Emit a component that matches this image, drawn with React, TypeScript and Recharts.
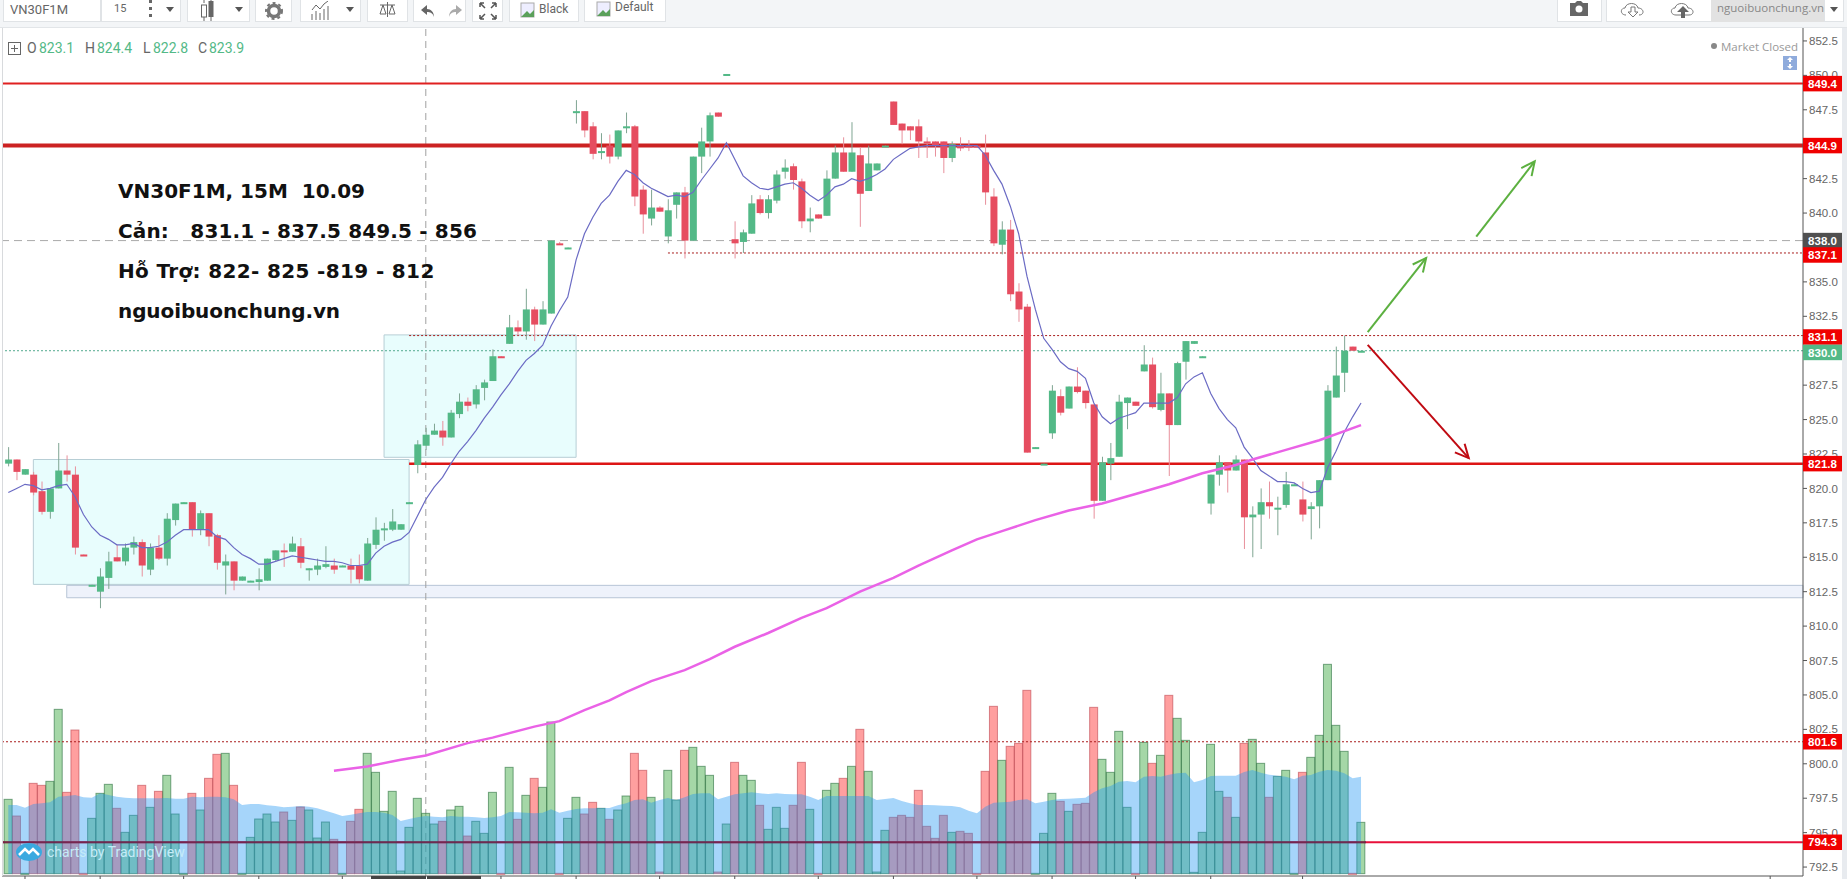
import React from 'react';
import { ComposedChart, Bar, Line, Area, XAxis, YAxis, ReferenceLine, ReferenceArea, ReferenceDot } from 'recharts';

const opens = [821.8,822.1,821.0,821.0,819.8,818.3,820.0,821.3,821.0,815.2,812.9,812.5,813.5,815.0,814.7,815.7,816.1,814.1,815.7,814.9,817.7,818.9,819.0,817.0,818.2,816.6,814.4,814.7,813.3,813.2,813.2,813.3,814.8,815.5,815.4,815.8,814.1,814.1,814.3,814.4,814.3,814.4,814.4,813.3,815.9,817.0,817.0,817.0,818.9,821.7,823.1,823.9,824.2,823.7,825.4,826.3,826.1,827.3,827.8,829.6,830.5,831.7,831.4,833.0,831.9,832.7,837.8,837.4,847.3,847.4,846.3,844.4,844.9,844.1,846.2,846.3,841.7,839.6,840.4,838.3,840.6,841.5,838.0,844.1,845.2,847.3,850.0,838.1,837.9,838.5,841.0,840.0,840.9,843.0,843.4,842.3,839.4,839.9,839.8,842.5,844.4,843.0,844.2,841.6,843.1,844.8,848.1,846.5,846.3,846.3,845.2,845.2,845.2,844.0,844.9,844.9,844.9,844.4,841.2,837.7,838.8,834.3,833.2,822.9,821.7,824.0,826.7,825.8,827.4,827.1,826.1,819.1,821.8,822.3,826.2,826.3,828.5,829.0,825.7,826.9,824.6,829.2,830.5,829.5,818.9,821.0,821.9,821.3,822.1,817.9,818.1,819.0,818.5,818.8,820.2,819.2,818.5,818.7,820.6,826.6,828.4,830.3,829.9];
const highs = [823.0,822.1,821.4,821.2,820.5,820.0,823.3,822.4,821.6,815.2,813.0,814.2,815.4,815.9,816.0,816.5,816.3,816.0,816.6,818.2,818.9,819.0,819.0,818.4,818.2,816.7,815.2,814.7,813.6,813.3,814.2,814.9,815.5,816.0,816.5,816.4,814.2,814.9,815.8,814.9,814.4,814.9,815.2,816.4,817.9,817.5,818.5,817.4,819.0,823.5,824.4,824.7,824.9,825.7,826.9,826.6,827.5,827.9,830.1,829.6,832.6,832.2,834.5,833.2,833.6,838.0,837.9,837.5,848.2,847.4,846.6,845.8,845.7,846.0,847.3,846.4,842.0,841.7,840.5,841.0,841.5,841.9,844.1,846.2,847.3,847.3,850.1,839.4,838.8,841.3,841.3,841.3,843.1,843.9,843.6,842.5,840.4,839.9,843.1,844.9,845.5,846.6,844.8,844.9,843.6,844.9,848.1,846.5,846.3,846.8,845.5,845.2,845.2,845.2,845.5,845.3,844.9,845.7,841.8,839.4,839.5,834.9,833.4,823.0,821.8,827.5,827.2,827.4,828.8,827.1,826.1,822.3,823.3,826.8,826.6,826.3,830.4,829.5,828.4,826.9,829.2,830.7,830.7,829.6,821.0,822.4,821.9,822.4,822.1,818.7,820.0,820.5,819.4,821.2,820.3,820.5,819.0,820.6,827.5,830.3,831.1,830.3,830.0];
const lows = [821.6,820.6,821.0,819.5,818.1,817.8,820.0,820.5,815.2,815.1,812.9,811.3,812.7,814.7,814.4,815.2,813.6,813.7,814.8,814.4,817.3,818.9,816.5,816.6,815.8,814.1,812.3,812.6,813.3,813.2,812.6,813.3,814.7,814.3,815.4,814.2,813.3,813.7,814.2,813.8,814.3,813.1,813.1,813.3,815.6,816.2,816.9,817.0,818.9,821.1,822.8,823.9,823.1,823.7,825.1,825.6,825.8,826.4,827.8,829.5,830.5,831.1,830.8,830.7,831.9,832.7,837.7,837.4,846.5,845.5,843.9,843.9,843.6,843.9,845.8,840.5,838.5,839.1,840.1,837.8,839.6,836.7,838.0,842.9,844.1,847.0,850.0,836.7,837.1,838.5,839.9,839.6,840.7,842.5,841.7,838.9,838.6,839.6,839.8,842.5,843.0,843.0,839.0,841.6,843.1,844.8,846.4,845.0,845.3,844.0,844.0,844.1,842.9,843.7,844.5,844.5,844.8,840.6,837.6,837.0,833.6,832.1,822.6,822.9,821.7,823.6,825.3,825.8,826.9,825.8,817.8,819.1,820.6,822.3,824.3,826.0,828.5,825.8,825.6,820.9,824.6,827.9,830.5,829.5,818.1,820.2,819.7,821.3,815.6,815.0,815.6,817.8,816.6,818.6,820.2,817.6,816.3,817.1,820.6,826.6,827.0,830.0,829.9];
const closes = [822.1,821.2,821.4,819.7,818.3,820.0,821.3,821.0,815.7,815.1,813.0,813.6,814.7,814.7,815.7,816.1,814.4,815.7,814.9,817.8,818.9,819.0,817.0,818.2,816.5,814.6,814.7,813.3,813.6,813.3,813.4,814.9,815.5,815.4,816.0,814.6,814.2,814.4,814.5,814.1,814.4,814.1,813.4,816.0,817.0,817.1,817.6,817.4,819.0,823.2,823.9,824.2,823.7,825.5,826.3,826.0,827.2,827.7,829.6,829.5,831.7,831.4,833.0,831.9,833.0,838.0,837.7,837.5,847.4,846.0,844.3,844.5,844.1,846.0,846.3,841.2,839.9,840.4,840.1,840.2,841.5,838.0,844.1,845.2,847.1,847.0,850.1,837.8,838.6,840.7,840.0,841.0,842.8,843.3,842.4,839.4,839.6,839.6,842.5,844.4,843.0,844.4,841.4,843.6,843.6,844.9,846.4,846.0,846.0,845.2,845.1,844.9,844.0,845.0,844.7,844.8,844.8,841.5,837.8,838.8,834.1,833.0,822.6,823.0,821.8,827.1,825.5,827.4,827.0,826.2,819.1,821.9,822.2,826.3,826.6,826.0,829.0,825.9,826.9,824.6,829.1,830.7,830.7,829.6,821.0,821.9,821.3,822.1,817.9,818.1,819.0,818.7,818.6,820.3,820.3,818.1,818.7,820.6,827.1,828.2,830.0,830.0,830.0];
const maShort = [819.7,820.0,820.3,820.2,819.9,820.0,820.2,820.3,819.4,818.1,817.2,816.6,816.3,815.9,815.9,816.0,815.7,815.7,815.8,816.1,816.6,817.0,817.0,817.0,817.0,816.5,816.3,815.7,815.2,814.9,814.5,814.5,814.7,814.9,815.1,815.0,814.9,814.8,814.7,814.7,814.6,814.4,814.4,814.5,815.3,815.8,816.1,816.3,816.8,818.0,819.2,820.1,820.8,821.8,822.7,823.4,824.2,825.1,825.9,826.8,827.6,828.5,829.3,829.8,830.4,831.8,832.9,833.9,836.6,838.5,839.7,840.7,841.3,842.3,843.1,842.8,842.2,841.8,841.5,841.2,841.3,841.2,841.5,842.4,843.2,844.0,845.1,843.9,842.7,842.2,841.8,841.7,841.9,842.1,842.2,841.8,841.3,840.9,841.3,841.9,842.1,842.5,842.3,842.5,842.8,843.2,843.9,844.3,844.7,844.8,844.9,844.9,844.9,844.9,844.9,844.9,844.9,844.2,843.1,842.1,840.5,838.5,835.4,833.0,830.9,830.1,829.2,828.7,828.5,828.0,826.2,825.2,824.7,825.1,825.3,825.5,826.2,826.2,826.2,826.2,826.6,827.6,828.1,828.4,826.9,825.8,825.0,824.4,823.0,822.2,821.3,820.9,820.5,820.5,820.4,820.0,819.7,819.8,821.5,822.7,824.1,825.2,826.2];
const maLongIndex = [39,43,47,50,55,58,63,66,69,72,74,77,81,84,87,91,95,98,102,106,109,113,116,119,123,127,131,135,139,143,147,149,153,157,162];
const maLongValue = [799.5,799.8,800.3,800.6,801.5,801.9,802.7,803.1,803.9,804.6,805.2,806.0,806.8,807.6,808.5,809.5,810.6,811.3,812.5,813.5,814.4,815.5,816.3,816.9,817.7,818.4,818.9,819.6,820.3,821.1,821.7,822.1,822.8,823.5,824.6];
const volume = [223,173,1,271,265,277,493,244,431,1,166,241,268,196,124,175,265,199,247,295,179,1,241,191,286,358,361,265,1,109,164,179,155,185,160,200,191,107,155,103,1,157,193,361,304,187,247,8,139,226,181,149,157,191,202,113,157,121,244,1,319,163,235,286,259,455,1,166,229,179,214,196,163,191,233,361,310,229,5,310,221,370,379,322,295,5,149,334,295,280,205,133,199,136,205,334,193,1,250,271,286,322,433,307,5,130,169,175,169,250,142,106,175,124,127,121,1,307,502,340,382,391,550,1,121,241,217,187,208,211,499,343,304,427,199,1,394,331,355,535,466,400,4,124,388,247,229,169,391,403,331,229,292,310,1,304,349,415,628,445,367,1,154];
const volumeMa = [206,206,198,209,211,214,231,233,236,229,228,241,236,231,228,226,226,226,226,227,225,225,231,229,231,231,229,223,206,209,209,205,203,199,201,203,201,196,189,181,173,177,181,185,185,183,176,158,164,169,173,171,169,173,171,171,169,167,169,173,185,184,183,181,183,193,183,189,194,196,196,197,197,205,211,221,223,213,221,227,221,229,239,241,241,223,231,238,241,244,241,239,241,239,238,238,231,221,233,233,233,233,233,233,221,224,227,218,211,206,206,205,204,203,199,189,181,201,213,214,216,221,223,211,216,221,224,225,226,228,244,256,263,276,278,274,291,293,291,297,301,303,274,281,293,294,294,294,305,311,303,297,294,291,283,294,296,306,311,309,301,286,291];
const priceTicks = [792.5,795,797.5,800,802.5,805,807.5,810,812.5,815,817.5,820,822.5,825,827.5,832.5,835,840,842.5,847.5,850,852.5];
const timeTicks = [2,11,21,30,40,59,68,78,87,97,106,116,125,135,144,155,211];
const legendItems = [['O', '823.1', 27, 39], ['H', '824.4', 85, 97], ['L', '822.8', 143, 153], ['C', '823.9', 198, 209]];
const notes = ['VN30F1M, 15M  10.09', 'Cản:   831.1 - 837.5 849.5 - 856', 'Hỗ Trợ: 822- 825 -819 - 812', 'nguoibuonchung.vn'];
const noteSpacing = [0, 0.15, 0.35, -0.1];

const X_DOMAIN = [-0.754, 214.93];
const X_END = X_DOMAIN[1];
const Y_DOMAIN = [791.85, 853.44];
const UP = '#53b987';
const DOWN = '#e64d60';
const rows = opens.map((open, idx) => {
  const longAt = maLongIndex.indexOf(idx);
  return {
    idx, open, high: highs[idx], low: lows[idx], close: closes[idx],
    up: closes[idx] >= open,
    ma: maShort[idx],
    maLong: longAt >= 0 ? maLongValue[longAt] : null,
    volume: volume[idx],
    volumeMa: volumeMa[idx],
  };
});

function Candle(props: any) {
  const { x, y, width, height, payload } = props;
  const span = payload.high - payload.low;
  if (!span || !height) return null;
  const unit = Math.abs(height) / span;
  const top = Math.min(y, y + height);
  const bodyTop = top + (payload.high - Math.max(payload.open, payload.close)) * unit;
  const bodyH = Math.max(2, Math.abs(payload.open - payload.close) * unit);
  const c = payload.up ? UP : DOWN;
  const cx = x + width / 2;
  return (
    <g>
      <line x1={cx} x2={cx} y1={top} y2={top + Math.abs(height)} stroke={payload.up ? '#7fa592' : '#e8909c'} strokeWidth={1} />
      <rect x={x} y={bodyTop} width={width} height={bodyH} fill={c} />
    </g>
  );
}

function VolumeBar(props: any) {
  const { x, y, width, height, payload } = props;
  return (
    <rect x={x} y={y} width={width} height={Math.max(1, height)}
      fill={payload.up ? 'rgba(76,175,80,0.5)' : 'rgba(255,64,64,0.5)'}
      stroke={payload.up ? 'rgba(40,110,60,0.6)' : 'rgba(190,70,80,0.6)'} strokeWidth={1} />
  );
}

function Arrow(props: any) {
  const { x1, y1, x2, y2, stroke } = props;
  const a = Math.atan2(y2 - y1, x2 - x1);
  const len = 15;
  const sp = 0.45;
  const p1 = [x2 - len * Math.cos(a - sp), y2 - len * Math.sin(a - sp)];
  const p2 = [x2 - len * Math.cos(a + sp), y2 - len * Math.sin(a + sp)];
  return (
    <g stroke={stroke} strokeWidth={2} fill="none">
      <line x1={x1} y1={y1} x2={x2} y2={y2} />
      <polyline points={`${p1[0]},${p1[1]} ${x2},${y2} ${p2[0]},${p2[1]}`} />
    </g>
  );
}

function PriceTag(props: any) {
  const { cx, cy, fill, value, shift } = props;
  const c = cy + shift;
  return (
    <g>
      <rect x={cx} y={c - 7.75} width={39} height={15.5} fill={fill} />
      <text x={cx + 19.5} y={c + 4.2} textAnchor="middle" fontFamily="Liberation Sans" fontSize={11.5} fontWeight={700} fill="#fff">{value}</text>
    </g>
  );
}

const tagPrices = [849.4, 844.9, 838.0, 837.1, 831.1, 830.0, 821.8, 801.6, 794.3];
const tagColors = ['#f00000', '#f00000', '#505050', '#f00000', '#f00000', '#53b987', '#f00000', '#f00000', '#f00000'];
const tagShifts = [0, 0, 0, 2, 1.4, 1.7, 0, 0, 0];

const abs = (left: number, top: number, extra: any = {}): any => ({ position: 'absolute', left, top, whiteSpace: 'pre', ...extra });
const btn = (left: number, width: number): any => ({ position: 'absolute', left, top: 0, width, height: 22, background: '#fff', borderRight: '1px solid #e0e3e6', borderBottom: '1px solid #e0e3e6', borderLeft: '1px solid #e0e3e6', boxSizing: 'border-box' });
const caret = (left: number) => <div style={abs(left, 7, { width: 0, height: 0, borderLeft: '4px solid transparent', borderRight: '4px solid transparent', borderTop: '5px solid #555' })} />;
const small = { fontFamily: 'Roboto', color: '#666', fontSize: 13 };

function Toolbar() {
  return (
    <div style={abs(0, 0, { width: 1847, height: 28, background: '#f3f5f7', borderBottom: '1px solid #e2e5e8', boxSizing: 'border-box' })}>
      <div style={btn(3, 98)} />
      <div style={abs(10, 1, { ...small, fontSize: 13, lineHeight: '17px' })}>VN30F1M</div>
      <div style={btn(101, 80)} />
      <div style={abs(114, 1, { ...small, fontSize: 11, lineHeight: '15px' })}>15</div>
      <div style={abs(149, 0, { width: 3, height: 3, background: '#666', boxShadow: '0 7px 0 #666, 0 14px 0 #666' })} />
      {caret(166)}
      <div style={btn(187, 63)} />
      <svg style={abs(200, 0)} width="16" height="22"><path d="M4 0v3M4 17v4M11 0v3M11 17v4" stroke="#666" /><rect x="1.5" y="5" width="5" height="12" fill="none" stroke="#666" /><rect x="8.5" y="1" width="5" height="16" fill="#666" /></svg>
      {caret(235)}
      <div style={btn(255, 37)} />
      <svg style={abs(265, 1)} width="18" height="20"><circle cx="9" cy="10" r="5.5" fill="none" stroke="#777" strokeWidth="3.5" /><circle cx="9" cy="10" r="8" fill="none" stroke="#777" strokeWidth="2" strokeDasharray="3 3" /></svg>
      <div style={btn(300, 61)} />
      <svg style={abs(311, 1)} width="19" height="20"><path d="M1 19v-6M5 19v-9M9 19v-7M13 19v-11M17 19v-14M1 9l4-5 4 4 4-5 4-3" stroke="#666" fill="none" /></svg>
      {caret(346)}
      <div style={btn(367, 41)} />
      <svg style={abs(378, 1)} width="19" height="20"><path d="M9.5 1v15M2 4h15M5 4l-3 9h6zM14 4l-3 9h6z" stroke="#666" fill="none" /></svg>
      <div style={btn(413, 53)} />
      <svg style={abs(419, 3)} width="46" height="16"><path d="M8 2L2 7l6 5V9c3 0 6 1 7 5 0-5-3-8-7-8z" fill="#666" /><path d="M37 2l6 5-6 5V9c-3 0-6 1-7 5 0-5 3-8 7-8z" fill="#aaa" /></svg>
      <div style={btn(472, 31)} />
      <svg style={abs(478, 1)} width="20" height="20"><path d="M2 2l5 5M2 2h4M2 2v4M18 2l-5 5M18 2h-4M18 2v4M2 18l5-5M2 18h4M2 18v-4M18 18l-5-5M18 18h-4M18 18v-4" stroke="#555" strokeWidth="1.5" fill="none" /></svg>
      <div style={btn(509, 70)} />
      <svg style={abs(520, 2)} width="16" height="18"><rect x="1" y="1" width="13" height="14" fill="#eef" stroke="#aaa" /><path d="M1 15l6-6 3 3 4-4v7z" fill="#5aa05a" /></svg>
      <div style={abs(539, 1, { ...small, fontSize: 12, lineHeight: '17px' })}>Black</div>
      <div style={btn(584, 82)} />
      <svg style={abs(596, 1)} width="16" height="18"><rect x="1" y="1" width="13" height="14" fill="#eef" stroke="#aaa" /><path d="M1 15l6-6 3 3 4-4v7z" fill="#5aa05a" /></svg>
      <div style={abs(615, 0, { ...small, fontSize: 12, lineHeight: '15px' })}>Default</div>
      <div style={btn(1557, 45)} />
      <svg style={abs(1568, 0)} width="22" height="18"><path d="M2 3h5l2-2h4l2 2h5v13H2z" fill="#666" /><circle cx="11" cy="9" r="3.5" fill="#fff" /></svg>
      <div style={btn(1606, 106)} />
      <svg style={abs(1619, 0)} width="28" height="18"><path d="M7 15C1 15 1 8 6 8c1-6 12-6 13 0 6 0 7 7 1 7" fill="none" stroke="#777" /><path d="M12 7h4v5h3l-5 5-5-5h3z" fill="#fff" stroke="#777" /></svg>
      <svg style={abs(1669, 0)} width="28" height="18"><path d="M7 15C1 15 1 8 6 8c1-6 12-6 13 0 6 0 7 7 1 7z" fill="none" stroke="#777" /><path d="M12 18v-6H8l6-6 6 6h-4v6z" fill="#666" /></svg>
      <div style={abs(1711, 0, { width: 113, height: 22, background: '#e2e2e2' })} />
      <div style={abs(1717, 0, { fontFamily: 'Open Sans', color: '#888', fontSize: 11.5, lineHeight: '15px' })}>nguoibuonchung.vn</div>
      <div style={btn(1824, 20)} />
      {caret(1830)}
    </div>
  );
}

function Overlays() {
  return (
    <>
      <div style={abs(2, 28, { width: 1, height: 848, background: '#d8dadd' })} />
      <div style={abs(1842, 28, { width: 5, height: 851, background: '#e8ebef' })} />
      <svg style={abs(8, 42)} width="13" height="13"><rect x="0.5" y="0.5" width="12" height="12" fill="none" stroke="#666" /><path d="M6.5 3v7M3 6.5h7" stroke="#666" /></svg>
      {legendItems.map(([k, v, x1, x2]) => (
        <React.Fragment key={k as string}>
          <div style={abs(x1 as number, 40, { fontFamily: 'Roboto', fontSize: 14, lineHeight: '17px', color: '#666' })}>{k}</div>
          <div style={abs(x2 as number, 40, { fontFamily: 'Roboto', fontSize: 14, lineHeight: '17px', color: '#53b987' })}>{v}</div>
        </React.Fragment>
      ))}
      {notes.map((t, i) => (
        <div key={i} style={abs(118, 178 + i * 40, { fontFamily: 'DejaVu Sans', fontWeight: 700, fontSize: 20, lineHeight: '26px', color: '#111', letterSpacing: noteSpacing[i] })}>{t}</div>
      ))}
      <div style={abs(1711, 43, { width: 6, height: 6, borderRadius: 3, background: '#888' })} />
      <div style={abs(1721, 39, { fontFamily: 'Open Sans', fontSize: 11.5, lineHeight: '16px', color: '#999' })}>Market Closed</div>
      <svg style={abs(1783, 56)} width="14" height="14"><rect width="14" height="14" fill="#8fabdc" /><path d="M7 1l3 3H8v2H6V4H4zM7 13l3-3H8V8H6v2H4z" fill="#fff" /></svg>
      <svg style={abs(15, 843)} width="28" height="18"><ellipse cx="14" cy="9" rx="13" ry="9" fill="#3aa9e0" /><path d="M4 12l6-6 4 4 4-4 6 6" stroke="#fff" strokeWidth="2.5" fill="none" /></svg>
      <div style={abs(47, 843, { fontFamily: 'Roboto', fontSize: 14, lineHeight: '18px', color: '#c5ecf8' })}>charts by TradingView</div>
      <div style={abs(371, 876, { width: 55, height: 3, background: '#444' })} />
      <div style={abs(427, 876, { width: 54, height: 3, background: '#444' })} />
    </>
  );
}

const layer: any = { position: 'absolute', left: 0, top: 0 };
const plain = { top: 28, left: 2, right: 44, bottom: 3 };

export default function App() {
  return (
    <div style={{ position: 'absolute', left: 0, top: 0, width: 1847, height: 879, background: '#fff', overflow: 'hidden' }}>
      {/* base: axes, zones and levels */}
      <div style={layer}>
        <ComposedChart width={1847} height={879} data={rows} margin={{ top: 28, left: 2, right: 0, bottom: 0 }}>
          <XAxis dataKey="idx" type="number" domain={X_DOMAIN} allowDataOverflow height={3} ticks={timeTicks} interval={0}
            tickFormatter={() => ''} tickSize={3} tickLine={{ stroke: '#555' }} axisLine={{ stroke: '#555' }} />
          <YAxis orientation="right" domain={Y_DOMAIN} allowDataOverflow width={44} ticks={priceTicks} interval={0} tickSize={4}
            tickFormatter={(v: number) => v.toFixed(1)} tick={{ fontFamily: 'Liberation Sans', fontSize: 11.5, fill: '#666' }} tickLine={{ stroke: '#555' }} axisLine={{ stroke: '#555' }} />
          <ReferenceArea x1={3} x2={48} y1={813.03} y2={822.1} fill="#e8fdfd" fillOpacity={1} stroke="#b7ced5" strokeWidth={1} />
          <ReferenceArea x1={45} x2={68} y1={822.26} y2={831.15} fill="#e8fdfd" fillOpacity={1} stroke="#b7ced5" strokeWidth={1} />
          <ReferenceArea x1={7} x2={X_END} y1={812.06} y2={812.96} fill="#eef2fb" fillOpacity={1} stroke="#b8c4d6" strokeWidth={1} />
          <ReferenceLine y={838.0} stroke="#aaa" strokeDasharray="8 5" />
          <ReferenceLine x={50} stroke="#a0a0a0" strokeDasharray="7 5" />
          <ReferenceLine y={830.0} stroke="#53a98f" strokeDasharray="2 2" />
          <ReferenceLine segment={[{ x: 48, y: 831.1 }, { x: X_END, y: 831.1 }]} stroke="#a81c1c" strokeDasharray="2 2" />
          <ReferenceLine segment={[{ x: 79, y: 837.1 }, { x: X_END, y: 837.1 }]} stroke="#a81c1c" strokeDasharray="2 2" />
          <ReferenceLine y={849.4} stroke="#e02020" strokeWidth={2} />
          <ReferenceLine y={844.9} stroke="#cc2222" strokeWidth={4} />
          <ReferenceLine segment={[{ x: 48, y: 821.8 }, { x: X_END, y: 821.8 }]} stroke="#dd1515" strokeWidth={2.5} />
          <ReferenceLine y={794.3} stroke="#e8103a" strokeWidth={2} />
        </ComposedChart>
      </div>
      {/* volume bars */}
      <div style={layer}>
        <ComposedChart width={1847} height={879} data={rows} margin={plain}>
          <XAxis dataKey="idx" type="number" domain={X_DOMAIN} allowDataOverflow hide />
          <YAxis domain={[-7, 2537]} allowDataOverflow hide />
          <Bar dataKey="volume" barSize={8} shape={VolumeBar} isAnimationActive={false} />
        </ComposedChart>
      </div>
      {/* volume average, laid over the bars */}
      <div style={layer}>
        <ComposedChart width={1847} height={879} data={rows} margin={plain}>
          <XAxis dataKey="idx" type="number" domain={X_DOMAIN} allowDataOverflow hide />
          <YAxis domain={[-7, 2537]} allowDataOverflow hide />
          <Area dataKey="volumeMa" stroke="none" fill="rgb(33,150,243)" fillOpacity={0.4} isAnimationActive={false} dot={false} activeDot={false} />
        </ComposedChart>
      </div>
      {/* price */}
      <div style={layer}>
        <ComposedChart width={1847} height={879} data={rows} margin={plain}>
          <XAxis dataKey="idx" type="number" domain={X_DOMAIN} allowDataOverflow hide />
          <YAxis domain={Y_DOMAIN} allowDataOverflow hide />
          <ReferenceLine y={801.6} stroke="#a81c1c" strokeDasharray="2 2" />
          <ReferenceLine segment={[{ x: X_DOMAIN[0], y: 794.3 }, { x: 162.6, y: 794.3 }]} stroke="rgba(110,30,70,0.85)" strokeWidth={2} />
          <Bar dataKey={(d: any) => [d.low, d.high]} barSize={7} shape={Candle} isAnimationActive={false} />
          <Line dataKey="ma" stroke="#6b6bc4" strokeWidth={1.2} dot={false} activeDot={false} isAnimationActive={false} />
          <Line dataKey="maLong" connectNulls stroke="#ea62e6" strokeWidth={2.5} dot={false} activeDot={false} isAnimationActive={false} />
          <ReferenceLine segment={[{ x: 162.8, y: 831.36 }, { x: 169.8, y: 836.74 }]} stroke="#5cb040" shape={Arrow} />
          <ReferenceLine segment={[{ x: 175.8, y: 838.28 }, { x: 182.8, y: 843.75 }]} stroke="#5cb040" shape={Arrow} />
          <ReferenceLine segment={[{ x: 162.8, y: 830.42 }, { x: 174.9, y: 822.2 }]} stroke="#c00a12" shape={Arrow} />
          {tagPrices.map((p, i) => (
            <ReferenceDot key={p} x={X_END} y={p} r={0} shape={(s: any) => <PriceTag {...s} fill={tagColors[i]} shift={tagShifts[i]} value={p.toFixed(1)} />} />
          ))}
        </ComposedChart>
      </div>
      <Overlays />
      <Toolbar />
    </div>
  );
}
